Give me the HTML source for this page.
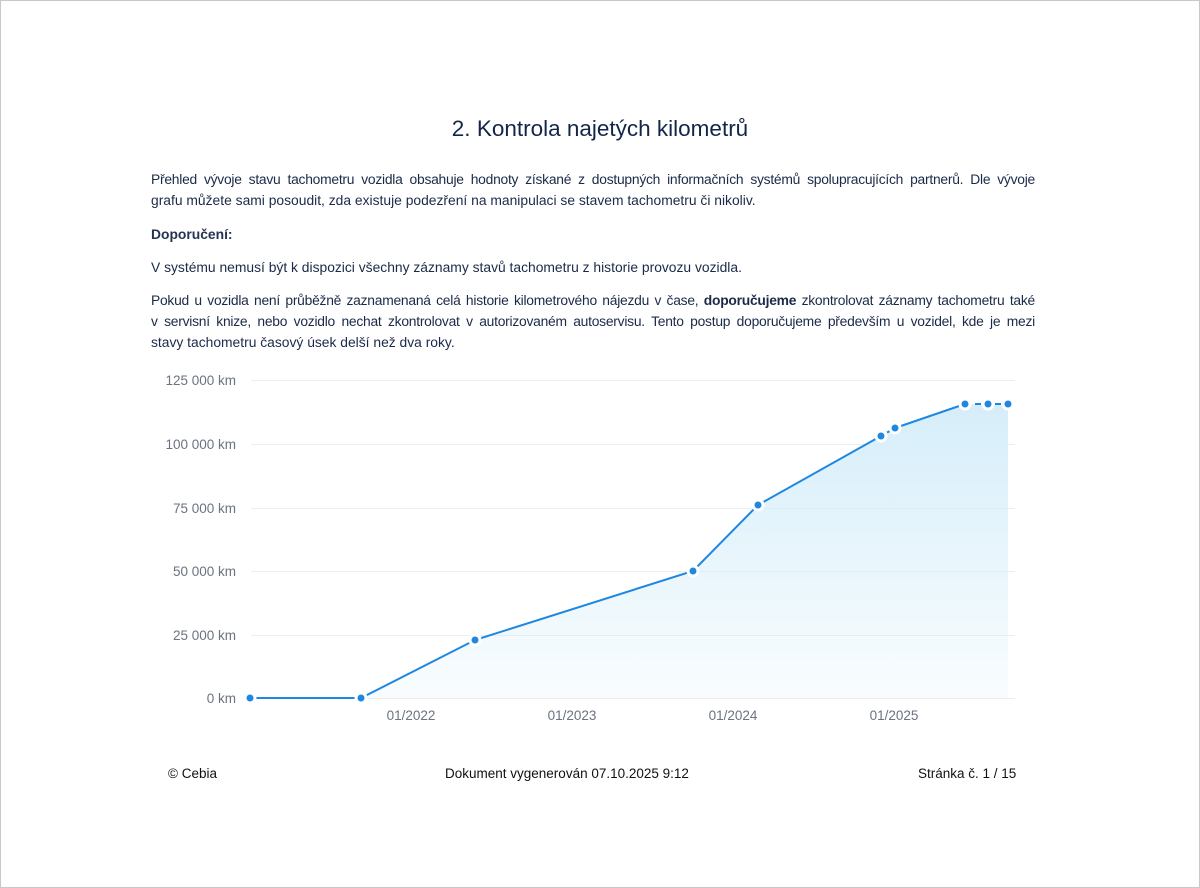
<!DOCTYPE html>
<html><head><meta charset="utf-8"><style>
body{margin:0;width:1200px;height:888px;background:#fff;position:relative;overflow:hidden;font-family:"Liberation Sans",sans-serif;color:#1b2a48}
.frame{position:absolute;left:0;top:0;width:1198px;height:886px;border:1px solid #c8c8c8}
.t{position:absolute;left:0;width:1200px;text-align:center;top:116px;font-size:22.5px;color:#13264a}
.l{position:absolute;left:151px;width:884px;font-size:13.85px;white-space:nowrap}
.j{text-align:justify;text-align-last:justify}
.f{position:absolute;top:766px;font-size:13.5px;color:#111}
</style></head><body>
<div class="frame"></div>
<div class="t">2. Kontrola najetých kilometrů</div>
<div class="l j" style="top:171px;letter-spacing:-0.25px">Přehled vývoje stavu tachometru vozidla obsahuje hodnoty získané z dostupných informačních systémů spolupracujících partnerů. Dle vývoje</div>
<div class="l" style="top:192px">grafu můžete sami posoudit, zda existuje podezření na manipulaci se stavem tachometru či nikoliv.</div>
<div class="l" style="top:226px;font-weight:bold;color:#24334f">Doporučení:</div>
<div class="l" style="top:259px">V systému nemusí být k dispozici všechny záznamy stavů tachometru z historie provozu vozidla.</div>
<div class="l j" style="top:292px;letter-spacing:-0.25px">Pokud u vozidla není průběžně zaznamenaná celá historie kilometrového nájezdu v čase, <b>doporučujeme</b> zkontrolovat záznamy tachometru také</div>
<div class="l j" style="top:313px;letter-spacing:-0.25px">v servisní knize, nebo vozidlo nechat zkontrolovat v autorizovaném autoservisu. Tento postup doporučujeme především u vozidel, kde je mezi</div>
<div class="l" style="top:334px">stavy tachometru časový úsek delší než dva roky.</div>
<svg style="position:absolute;left:0;top:0" width="1200" height="888">
<defs><linearGradient id="g" x1="0" y1="0" x2="0" y2="1"><stop offset="0" stop-color="#d6eefa"/><stop offset="1" stop-color="#d6eefa" stop-opacity="0.15"/></linearGradient></defs>
<g stroke="#ebedf0" stroke-width="1">
<line x1="251" y1="380.5" x2="1015" y2="380.5"/><line x1="251" y1="444.5" x2="1015" y2="444.5"/><line x1="251" y1="508.5" x2="1015" y2="508.5"/><line x1="251" y1="571.5" x2="1015" y2="571.5"/><line x1="251" y1="635.5" x2="1015" y2="635.5"/><line x1="251" y1="698.5" x2="1015" y2="698.5"/></g>
<g font-family="Liberation Sans" font-size="13.5" fill="#6b7280" text-anchor="end">
<text x="236" y="385">125 000 km</text><text x="236" y="449">100 000 km</text><text x="236" y="513">75 000 km</text><text x="236" y="576">50 000 km</text><text x="236" y="640">25 000 km</text><text x="236" y="703">0 km</text></g>
<g font-family="Liberation Sans" font-size="13.5" fill="#6b7280" text-anchor="middle">
<text x="411" y="720">01/2022</text><text x="572" y="720">01/2023</text><text x="733" y="720">01/2024</text><text x="894" y="720">01/2025</text></g>
<path d="M361,698 L475,640 L693,571 L758,505 L881,436 L895,428 L965,404 L988,404 L1008,404 L1008,698 Z" fill="url(#g)"/>
<polyline points="250,698 361,698 475,640 693,571 758,505 881,436" fill="none" stroke="#1e88e0" stroke-width="2"/>
<polyline points="895,428 965,404" fill="none" stroke="#1e88e0" stroke-width="2"/>
<polyline points="881,436 895,428" fill="none" stroke="#1e88e0" stroke-width="2" stroke-dasharray="4 3"/>
<line x1="965" y1="404" x2="1008" y2="404" stroke="#1e88e0" stroke-width="2" stroke-dasharray="6 4"/>
<g fill="#1e88e0" stroke="#fff" stroke-width="3">
<circle cx="250" cy="698" r="5"/><circle cx="361" cy="698" r="5"/><circle cx="475" cy="640" r="5"/><circle cx="693" cy="571" r="5"/><circle cx="758" cy="505" r="5"/><circle cx="881" cy="436" r="5"/><circle cx="895" cy="428" r="5"/><circle cx="965" cy="404" r="5"/><circle cx="988" cy="404" r="5"/><circle cx="1008" cy="404" r="5"/></g>
</svg>
<div class="f" style="left:168px">© Cebia</div>
<div class="f" style="left:445px">Dokument vygenerován 07.10.2025 9:12</div>
<div class="f" style="left:918px">Stránka č. 1 / 15</div>
</body></html>
